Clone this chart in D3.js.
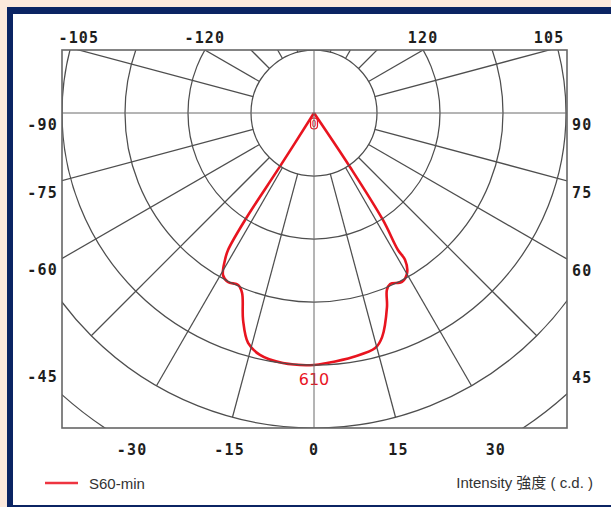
<!DOCTYPE html>
<html>
<head>
<meta charset="utf-8">
<script src="https://cdn.jsdelivr.net/npm/d3@7"></script>
<style>
  html, body { margin: 0; padding: 0; background: #fce9dc; }
  #chart { width: 611px; height: 507px; overflow: hidden; }
  .tick { font-family: "DejaVu Sans Mono", monospace; font-weight: bold; font-size: 15px; fill: #1e1e1e; letter-spacing: 1.2px; }
  .note { font-family: "Liberation Sans", "Noto Sans CJK TC", sans-serif; font-size: 15px; fill: #333; }
</style>
</head>
<body>
<div id="chart"></div>
<script>
// tick labels where the radial lines meet the frame (degrees from nadir)
const topTicks = [-105, -120, 120, 105];
const leftTicks = [-90, -75, -60, -45];
const rightTicks = [90, 75, 60, 45];
const bottomTicks = [-30, -15, 0, 15, 30];

// S60-min: gamma angle (deg) and intensity (cd)
const curveAngles = [-33, -32.5, -32.8, -32.1, -31.2, -29.3, -27.0, -23.8, -21.8, -18.9, -16.0, -12.6, -7.1, 0,
  3.0, 9.1, 14.6, 16.9, 20.6, 22.4, 24.0, 27.5, 30.2, 31.8, 31.5, 32.8, 33.7, 33];
const curveValues = [0, 154, 308, 392, 416, 450, 459, 455, 469, 530, 579, 600, 610, 610,
  606, 598, 588, 567, 502, 463, 453, 461, 448, 418, 389, 308, 157, 0];

const ringStep = 152.5;
const ringCount = 7;
const gridAngles = d3.range(-165, 180, 15).filter(a => a !== 0 && Math.abs(a) !== 90);
const seriesName = 'S60-min';
const peakLabel = '610';
const unitLabel = 'Intensity 強度 ( c.d. )';

class PolarIntensityChart {
  constructor(selector) {
    this.element = d3.select(selector);
    this.width = 611;
    this.height = 507;
    this.frame = {left: 62, top: 50, right: 567, bottom: 428};
    this.center = {x: 314, y: 113};
    this.red = '#e8141f';
    this.draw();
  }

  draw() {
    this.createSVG();
    this.createScales();
    this.renderGrid();
    this.renderTicks();
    this.renderCurve();
    this.renderLegend();
  }

  createSVG() {
    this.svg = this.element.append('svg')
      .attr('width', this.width)
      .attr('height', this.height);

    // navy card border, right edge runs off the picture
    this.svg.append('rect')
      .attr('x', 7).attr('y', 7)
      .attr('width', this.width).attr('height', this.height)
      .attr('fill', '#0b2463');
    this.svg.append('rect')
      .attr('x', 13).attr('y', 14)
      .attr('width', this.width).attr('height', 491)
      .attr('fill', '#fff');

    this.svg.append('defs').append('clipPath')
      .attr('id', 'frame-clip')
      .append('rect')
      .attr('x', this.frame.left).attr('y', this.frame.top)
      .attr('width', this.frame.right - this.frame.left)
      .attr('height', this.frame.bottom - this.frame.top);

    this.plot = this.svg.append('g')
      .attr('transform', `translate(${this.center.x},${this.center.y})`);
  }

  createScales() {
    this.rScale = d3.scaleLinear().domain([0, ringStep]).range([0, 63]);
    // gamma measured from straight down, negative to the left
    this.aScale = d3.scaleLinear().domain([0, 180]).range([Math.PI, 0]);
  }

  renderGrid() {
    let f = this.frame, c = this.center;
    let grid = this.svg.append('g').attr('clip-path', 'url(#frame-clip)')
      .append('g')
      .attr('transform', `translate(${c.x},${c.y})`)
      .attr('fill', 'none');

    grid.selectAll('circle')
      .data(d3.range(1, ringCount).map(k => k * ringStep))
      .join('circle')
      .attr('r', d => this.rScale(d))
      .attr('stroke', '#4e4e4e')
      .attr('stroke-width', 1.25);

    let spoke = d3.lineRadial()
      .angle(d => this.aScale(d[0]))
      .radius(d => this.rScale(d[1]));
    grid.selectAll('path.spoke')
      .data(gridAngles)
      .join('path')
      .attr('class', 'spoke')
      .attr('d', a => spoke([[a, ringStep], [a, ringStep * 5]]))
      .attr('stroke', '#4e4e4e')
      .attr('stroke-width', 1.25);

    // cross hair through the pole
    this.svg.append('line')
      .attr('x1', f.left).attr('x2', f.right)
      .attr('y1', c.y).attr('y2', c.y)
      .attr('stroke', '#6a6a6a').attr('stroke-width', 1);
    this.svg.append('line')
      .attr('x1', c.x).attr('x2', c.x)
      .attr('y1', f.top).attr('y2', f.bottom)
      .attr('stroke', '#6a6a6a').attr('stroke-width', 1);

    this.svg.append('rect')
      .attr('x', f.left).attr('y', f.top)
      .attr('width', f.right - f.left).attr('height', f.bottom - f.top)
      .attr('fill', 'none')
      .attr('stroke', '#666')
      .attr('stroke-width', 1.6);
  }

  /**
   * Point where the ray at the given gamma leaves the frame.
   */
  frameHit(gamma) {
    let f = this.frame, c = this.center;
    let t = gamma * Math.PI / 180;
    let dx = Math.sin(t), dy = Math.cos(t);
    let hits = [];
    if (dx > 1e-9) hits.push((f.right - c.x) / dx);
    if (dx < -1e-9) hits.push((f.left - c.x) / dx);
    if (dy > 1e-9) hits.push((f.bottom - c.y) / dy);
    if (dy < -1e-9) hits.push((f.top - c.y) / dy);
    let s = d3.min(hits);
    return {x: c.x + dx * s, y: c.y + dy * s};
  }

  renderTicks() {
    let f = this.frame;
    let g = this.svg.append('g').attr('class', 'tick').attr('dominant-baseline', 'central');

    g.selectAll('text.top').data(topTicks).join('text')
      .attr('text-anchor', 'middle')
      .attr('x', d => this.frameHit(d).x)
      .attr('y', f.top - 12)
      .text(d => d);

    g.selectAll('text.left').data(leftTicks).join('text')
      .attr('text-anchor', 'end')
      .attr('x', f.left - 4)
      .attr('y', d => this.frameHit(d).y + 12)
      .text(d => d);

    g.selectAll('text.right').data(rightTicks).join('text')
      .attr('text-anchor', 'start')
      .attr('x', f.right + 5)
      .attr('y', d => this.frameHit(d).y + 12)
      .text(d => d);

    g.selectAll('text.bottom').data(bottomTicks).join('text')
      .attr('text-anchor', 'middle')
      .attr('x', d => this.frameHit(d).x)
      .attr('y', f.bottom + 22)
      .text(d => d);
  }

  renderCurve() {
    let points = curveAngles.map((a, i) => [a, curveValues[i]]);
    let line = d3.lineRadial()
      .angle(d => this.aScale(d[0]))
      .radius(d => this.rScale(d[1]))
      .curve(d3.curveCatmullRom.alpha(0.5));

    this.plot.append('path')
      .attr('d', line(points))
      .attr('fill', 'none')
      .attr('stroke', this.red)
      .attr('stroke-width', 2.6)
      .attr('stroke-linejoin', 'round');

    // zero mark at the pole
    this.plot.append('rect')
      .attr('x', -3.5).attr('y', 5)
      .attr('width', 7).attr('height', 11)
      .attr('rx', 3.5)
      .attr('fill', '#fff')
      .attr('stroke', this.red)
      .attr('stroke-width', 1.2);
    this.plot.append('text')
      .attr('text-anchor', 'middle')
      .attr('y', 14)
      .attr('font-family', 'DejaVu Sans, sans-serif')
      .attr('font-size', 8)
      .attr('fill', this.red)
      .text('0');

    let peak = d3.max(curveValues);
    this.plot.append('text')
      .attr('text-anchor', 'middle')
      .attr('dominant-baseline', 'central')
      .attr('y', this.rScale(peak) + 14)
      .attr('font-family', 'DejaVu Sans, sans-serif')
      .attr('font-size', 16)
      .attr('fill', this.red)
      .text(peakLabel);
  }

  renderLegend() {
    this.svg.append('line')
      .attr('x1', 45).attr('x2', 78)
      .attr('y1', 483).attr('y2', 483)
      .attr('stroke', '#ee3440')
      .attr('stroke-width', 2.4);
    this.svg.append('text')
      .attr('class', 'note')
      .attr('x', 89).attr('y', 483)
      .attr('dominant-baseline', 'central')
      .text(seriesName);
    this.svg.append('text')
      .attr('class', 'note')
      .attr('x', 593).attr('y', 482)
      .attr('text-anchor', 'end')
      .attr('dominant-baseline', 'central')
      .text(unitLabel);
  }
}

new PolarIntensityChart('#chart');
</script>
</body>
</html>
